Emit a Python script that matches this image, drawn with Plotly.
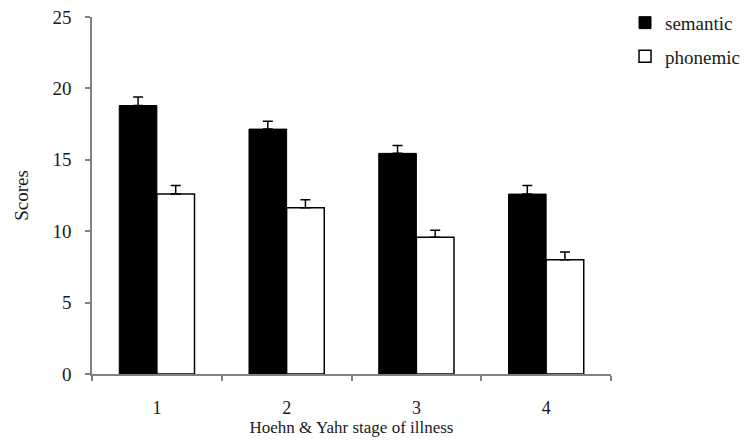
import plotly.graph_objects as go

stages = ["1", "2", "3", "4"]
semantic = [18.8, 17.15, 15.45, 12.6]
semantic_err = [0.6, 0.55, 0.55, 0.6]
phonemic = [12.6, 11.65, 9.57, 8.0]
phonemic_err = [0.6, 0.55, 0.5, 0.55]
y_ticks = [0, 5, 10, 15, 20, 25]

FONT = "Times New Roman, Liberation Serif, Tinos, DejaVu Serif, serif"
TXT = "#1a1a1a"

fig = go.Figure()
fig.add_trace(go.Bar(
    x=stages, y=semantic, name="semantic", legendgroup="a",
    marker=dict(color="black", line=dict(color="black", width=1)),
    error_y=dict(type="data", symmetric=False, array=semantic_err,
                 arrayminus=[0] * len(semantic), color="black", thickness=1.5, width=5),
))
fig.add_trace(go.Bar(
    x=stages, y=phonemic, name="phonemic", legendgroup="b",
    marker=dict(color="white", line=dict(color="black", width=1.5)),
    error_y=dict(type="data", symmetric=False, array=phonemic_err,
                 arrayminus=[0] * len(phonemic), color="black", thickness=1.5, width=5),
))

fig.update_layout(
    width=754, height=442,
    margin=dict(l=92, r=143, t=17, b=68, autoexpand=False),
    paper_bgcolor="white", plot_bgcolor="white",
    barmode="group", bargap=0.42, bargroupgap=0,
    font=dict(family=FONT, size=18, color=TXT),
    showlegend=True,
    legend=dict(x=1.027, y=1.037, xanchor="left", yanchor="top",
                font=dict(family=FONT, size=19, color=TXT),
                tracegroupgap=6, itemwidth=30, bgcolor="rgba(0,0,0,0)"),
    xaxis=dict(
        showline=True, linecolor="#808080", linewidth=1.5,
        ticks="outside", tickson="boundaries", ticklen=5, tickcolor="#808080", tickwidth=1.5,
        tickfont=dict(family=FONT, size=18, color=TXT),
        ticklabelstandoff=17,
        title=dict(text="Hoehn & Yahr stage of illness", standoff=2,
                   font=dict(family=FONT, size=17, color=TXT)),
        showgrid=False,
    ),
    yaxis=dict(
        range=[0, 25], tickvals=y_ticks,
        showline=True, linecolor="#808080", linewidth=1.5,
        ticks="outside", ticklen=5, tickcolor="#808080", tickwidth=1.5,
        tickfont=dict(family=FONT, size=19, color=TXT),
        ticklabelstandoff=10,
        title=dict(text="Scores", standoff=19, font=dict(family=FONT, size=19, color=TXT)),
        showgrid=False, zeroline=False,
    ),
)

fig.write_html("out.html")
